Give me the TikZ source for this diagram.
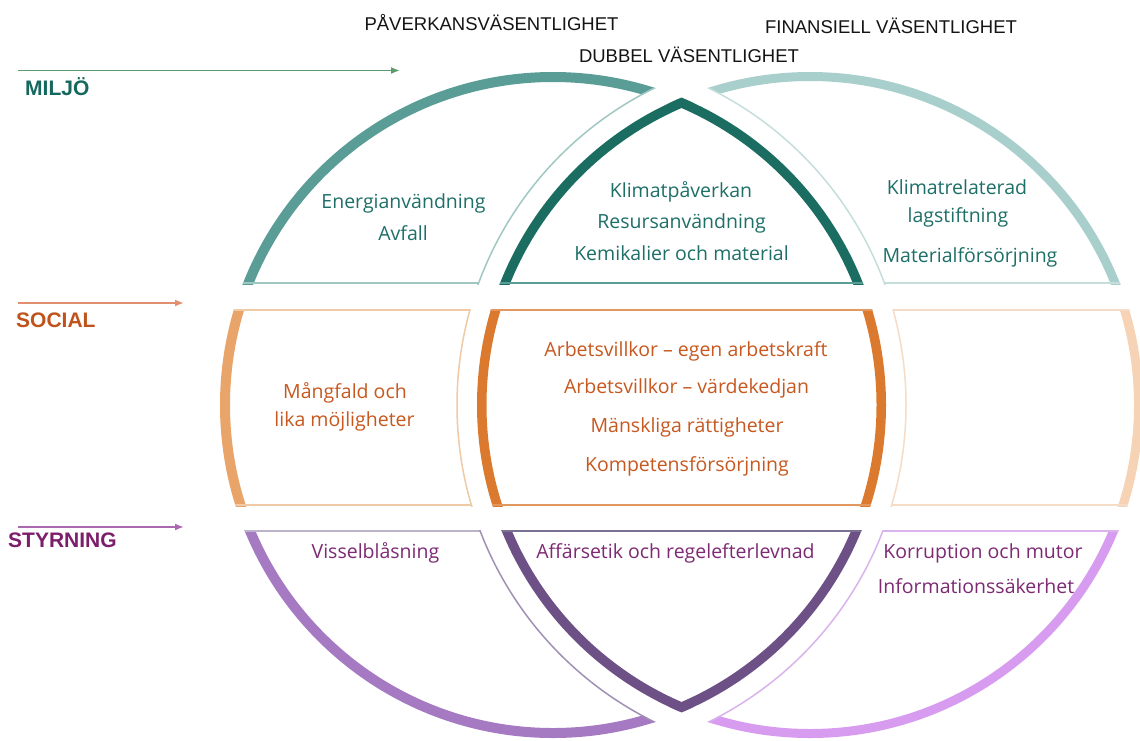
\documentclass[tikz,border=0pt]{standalone}
\usepackage{fontspec}
\setmainfont{Open Sans}
\newfontfamily\hdfont{Liberation Sans}
\usetikzlibrary{arrows.meta}
\definecolor{tealL}{RGB}{90,157,150}
\definecolor{tealLthin}{RGB}{160,200,195}
\definecolor{tealM}{RGB}{27,109,98}
\definecolor{tealR}{RGB}{169,207,205}
\definecolor{tealRthin}{RGB}{197,222,220}
\definecolor{tealTxt}{RGB}{30,111,104}
\definecolor{orL}{RGB}{233,164,106}
\definecolor{orLthin}{RGB}{240,201,165}
\definecolor{orM}{RGB}{219,122,46}
\definecolor{orMthin}{RGB}{226,152,94}
\definecolor{orR}{RGB}{245,211,180}
\definecolor{orRthin}{RGB}{245,220,198}
\definecolor{orTxt}{RGB}{199,88,31}
\definecolor{puL}{RGB}{165,122,194}
\definecolor{puLthin}{RGB}{160,145,180}
\definecolor{puM}{RGB}{108,80,134}
\definecolor{puMthin}{RGB}{122,114,144}
\definecolor{puR}{RGB}{215,156,240}
\definecolor{puRthin}{RGB}{217,180,236}
\definecolor{puTxt}{RGB}{125,42,115}
\definecolor{lbMiljo}{RGB}{22,104,95}
\definecolor{lbSocial}{RGB}{192,83,28}
\definecolor{lbStyr}{RGB}{124,30,108}
\definecolor{arMiljo}{RGB}{93,154,108}
\definecolor{arSocial}{RGB}{224,144,110}
\definecolor{arStyr}{RGB}{169,104,176}
\tikzset{
  itemtxt/.style={anchor=base, inner sep=0pt, font=\fontsize{19.5}{23}\selectfont},
  hdtxt/.style={anchor=base, inner sep=0pt, font=\hdfont\fontsize{18.5}{22}\selectfont, text=black!92},
  lbtxt/.style={anchor=base west, inner sep=0pt, font=\hdfont\bfseries\fontsize{21}{24}\selectfont},
  bandarrow/.style={line width=1.8pt, -{Latex[length=9pt,width=7pt]}},
}
\begin{document}
\begin{tikzpicture}[x=1pt,y=-1pt]
\useasboundingbox[fill=white] (0,0) rectangle (1140,740);
\coordinate (CA) at (553,405);
\coordinate (CB) at (810,405);
% ---------------- MILJO band ----------------
\begin{scope}
  \clip (0,0) rectangle (1140,284);
  \clip (CA) circle[radius=333pt];
  \begin{scope}[even odd rule]
    \clip (-50,-50) rectangle (1200,800) (CB) circle[radius=353pt];
    \draw[line width=20pt, tealL] (CA) circle[radius=333pt];
    \draw[line width=2pt, tealLthin] (0,283) -- (1140,283);
  \end{scope}
  \draw[line width=1.5pt, tealLthin] (CB) circle[radius=353pt];
\end{scope}
\begin{scope}
  \clip (0,0) rectangle (1140,284);
  \clip (CB) circle[radius=333pt];
  \begin{scope}[even odd rule]
    \clip (-50,-50) rectangle (1200,800) (CA) circle[radius=353pt];
    \draw[line width=18pt, tealR] (CB) circle[radius=333pt];
    \draw[line width=2pt, tealRthin] (0,283) -- (1140,283);
  \end{scope}
  \draw[line width=1.5pt, tealRthin] (CA) circle[radius=353pt];
\end{scope}
\begin{scope}
  \clip (0,0) rectangle (1140,284);
  \clip (CA) circle[radius=333pt];
  \clip (CB) circle[radius=333pt];
  \draw[line width=19pt, tealM] (CA) circle[radius=333pt];
  \draw[line width=19pt, tealM] (CB) circle[radius=333pt];
  \draw[line width=2pt, tealL] (0,283) -- (1140,283);
\end{scope}
% ---------------- SOCIAL band ----------------
\begin{scope}
  \clip (0,309) rectangle (1140,506);
  \clip (CA) circle[radius=333pt];
  \begin{scope}[even odd rule]
    \clip (-50,-50) rectangle (1200,800) (CB) circle[radius=353pt];
    \draw[line width=20pt, orL] (CA) circle[radius=333pt];
    \draw[line width=2pt, orLthin] (0,310) -- (1140,310) (0,505) -- (1140,505);
  \end{scope}
  \draw[line width=1.5pt, orLthin] (CB) circle[radius=353pt];
\end{scope}
\begin{scope}
  \clip (0,309) rectangle (1140,506);
  \clip (CB) circle[radius=333pt];
  \begin{scope}[even odd rule]
    \clip (-50,-50) rectangle (1200,800) (CA) circle[radius=353pt];
    \draw[line width=18pt, orR] (CB) circle[radius=333pt];
    \draw[line width=2pt, orRthin] (0,310) -- (1140,310) (0,505) -- (1140,505);
  \end{scope}
  \draw[line width=1.5pt, orRthin] (CA) circle[radius=353pt];
\end{scope}
\begin{scope}
  \clip (0,309) rectangle (1140,506);
  \clip (CA) circle[radius=333pt];
  \clip (CB) circle[radius=333pt];
  \draw[line width=19pt, orM] (CA) circle[radius=333pt];
  \draw[line width=19pt, orM] (CB) circle[radius=333pt];
  \draw[line width=2.5pt, orMthin] (0,310) -- (1140,310) (0,505) -- (1140,505);
\end{scope}
% ---------------- STYRNING band ----------------
\begin{scope}
  \clip (0,530) rectangle (1140,740);
  \clip (CA) circle[radius=333pt];
  \begin{scope}[even odd rule]
    \clip (-50,-50) rectangle (1200,800) (CB) circle[radius=353pt];
    \draw[line width=20pt, puL] (CA) circle[radius=333pt];
    \draw[line width=2pt, puLthin!70] (0,531) -- (1140,531);
  \end{scope}
  \draw[line width=1.5pt, puLthin] (CB) circle[radius=353pt];
\end{scope}
\begin{scope}
  \clip (0,530) rectangle (1140,740);
  \clip (CB) circle[radius=333pt];
  \begin{scope}[even odd rule]
    \clip (-50,-50) rectangle (1200,800) (CA) circle[radius=353pt];
    \draw[line width=18pt, puR] (CB) circle[radius=333pt];
    \draw[line width=2pt, puRthin] (0,531) -- (1140,531);
  \end{scope}
  \draw[line width=1.5pt, puRthin] (CA) circle[radius=353pt];
\end{scope}
\begin{scope}
  \clip (0,530) rectangle (1140,740);
  \clip (CA) circle[radius=333pt];
  \clip (CB) circle[radius=333pt];
  \draw[line width=19pt, puM] (CA) circle[radius=333pt];
  \draw[line width=19pt, puM] (CB) circle[radius=333pt];
  \draw[line width=2.5pt, puMthin] (0,531) -- (1140,531);
\end{scope}
% ---------------- headers ----------------
\node[hdtxt] (hPav) at (491.5,30) {PÅVERKANSVÄSENTLIGHET};
\node[hdtxt] (hFin) at (891,33) {FINANSIELL VÄSENTLIGHET};
\node[hdtxt] (hDub) at (689,62) {DUBBEL VÄSENTLIGHET};
% ---------------- band labels + arrows ----------------
\node[lbtxt, text=lbMiljo] (lMiljo) at (25,95) {MILJÖ};
\node[lbtxt, text=lbSocial] (lSocial) at (16,327) {SOCIAL};
\node[lbtxt, text=lbStyr] (lStyr) at (8,547) {STYRNING};
\coordinate (aMs) at (18,70.5);  \coordinate (aMe) at (400,70.5);
\coordinate (aSs) at (18,303);   \coordinate (aSe) at (184,303);
\coordinate (aYs) at (18,527);   \coordinate (aYe) at (184,527);
\draw[bandarrow, arMiljo] (aMs) -- (aMe);
\draw[bandarrow, arSocial] (aSs) -- (aSe);
\draw[bandarrow, arStyr] (aYs) -- (aYe);
% ---------------- MILJO texts ----------------
\node[itemtxt, text=tealTxt] (t1) at (403.5,208) {Energianvändning};
\node[itemtxt, text=tealTxt] (t2) at (403,240) {Avfall};
\node[itemtxt, text=tealTxt] (t3) at (681,197) {Klimatpåverkan};
\node[itemtxt, text=tealTxt] (t4) at (681.5,228) {Resursanvändning};
\node[itemtxt, text=tealTxt] (t5) at (681.5,260) {Kemikalier och material};
\node[itemtxt, text=tealTxt] (t6) at (957,194) {Klimatrelaterad};
\node[itemtxt, text=tealTxt] (t7) at (958,222) {lagstiftning};
\node[itemtxt, text=tealTxt] (t8) at (970,262) {Materialförsörjning};
% ---------------- SOCIAL texts ----------------
\node[itemtxt, text=orTxt] (s1) at (345,398) {Mångfald och};
\node[itemtxt, text=orTxt] (s2) at (344.5,426) {lika möjligheter};
\node[itemtxt, text=orTxt] (s3) at (686,356) {Arbetsvillkor – egen arbetskraft};
\node[itemtxt, text=orTxt] (s4) at (686.5,393) {Arbetsvillkor – värdekedjan};
\node[itemtxt, text=orTxt] (s5) at (687,432) {Mänskliga rättigheter};
\node[itemtxt, text=orTxt] (s6) at (687,471) {Kompetensförsörjning};
% ---------------- STYRNING texts ----------------
\node[itemtxt, text=puTxt] (g1) at (375.5,558) {Visselblåsning};
\node[itemtxt, text=puTxt] (g2) at (675.5,558) {Affärsetik och regelefterlevnad};
\node[itemtxt, text=puTxt] (g3) at (983,558) {Korruption och mutor};
\node[itemtxt, text=puTxt] (g4) at (976,593) {Informationssäkerhet};
\end{tikzpicture}
\end{document}
